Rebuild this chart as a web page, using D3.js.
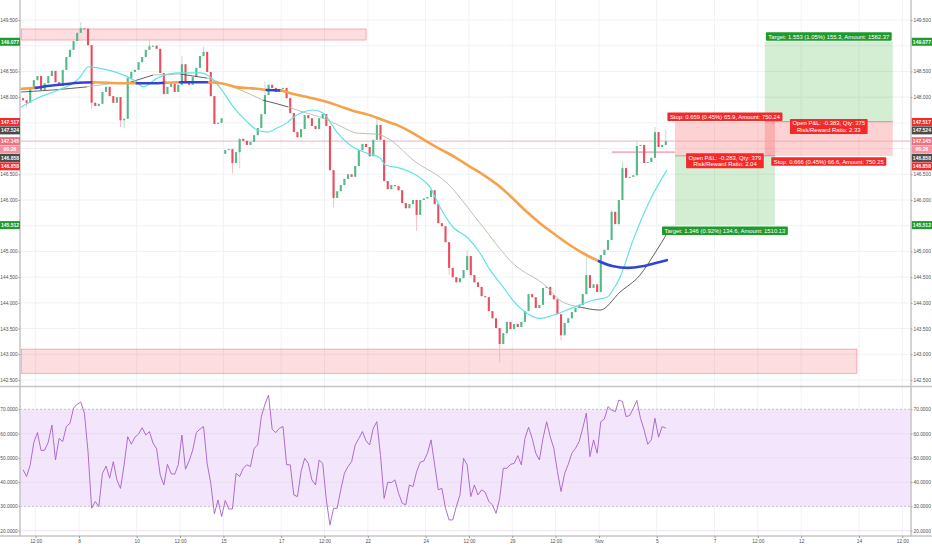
<!DOCTYPE html>
<html>
<head>
<meta charset="utf-8">
<script src="https://cdn.jsdelivr.net/npm/d3@7"></script>
<style>
  body { margin: 0; background: #fff; }
  svg { display: block; font-family: "Liberation Sans", Arial, sans-serif; }
</style>
</head>
<body>
<div id="chart"></div>
<script>
// ---- data ----
// 3h candles, closes (open = previous close)
const firstOpen = 147.98;
const closes = [
  147.94, 147.89, 148.18, 148.33, 148.41, 148.14, 148.27, 148.41, 148.51, 148.29,
  148.22, 148.53, 148.78, 148.92, 149.09, 149.25, 149.34, 149.33, 149.01, 147.89,
  147.83, 147.87, 148.10, 148.20, 148.02, 147.89, 148.00, 147.55, 147.58, 148.37,
  148.49, 148.53, 148.68, 148.78, 148.92, 148.99, 149.00, 148.94, 148.47, 148.06,
  148.20, 148.26, 148.10, 148.24, 148.64, 148.27, 148.24, 148.39, 148.57, 148.80,
  148.88, 148.49, 148.02, 147.48, 147.50, 147.59, 146.97, 146.99, 146.72, 146.93,
  147.19, 147.15, 147.07, 147.13, 147.26, 147.40, 147.67, 148.04, 148.24, 148.18,
  148.10, 148.16, 148.18, 147.98, 147.69, 147.32, 147.22, 147.38, 147.65, 147.59,
  147.44, 147.38, 147.59, 147.67, 147.44, 146.58, 146.04, 146.17, 146.29, 146.41,
  146.50, 146.45, 146.66, 146.97, 147.09, 147.03, 146.85, 147.17, 147.46, 147.17,
  146.37, 146.21, 146.29, 146.27, 146.19, 145.94, 145.84, 145.92, 146.00, 145.71,
  146.00, 146.03, 146.06, 146.19, 145.92, 145.55, 145.49, 145.18, 144.68, 144.50,
  144.40, 144.48, 144.64, 144.91, 144.54, 144.40, 144.31, 144.13, 144.11, 143.84,
  143.70, 143.51, 143.20, 143.41, 143.63, 143.49, 143.59, 143.53, 143.63, 143.84,
  144.17, 144.11, 143.90, 143.96, 144.29, 144.31, 144.15, 144.07, 143.78, 143.37,
  143.61, 143.70, 143.82, 143.90, 143.96, 144.17, 144.54, 144.29, 144.36, 144.21,
  144.93, 145.03, 145.22, 145.77, 145.53, 146.00, 146.62, 146.43, 146.45, 146.48,
  147.05, 147.07, 146.72, 146.74, 146.82, 147.32, 147.03, 147.07, 147.145
];
// weekly gap opens [candle index, open]
const gapOpens = [[56, 146.90]];
// notable wicks [candle index, high, low]
const wicks = [
  [1, null, 147.80], [16, 149.46, null], [19, null, 147.78], [27, null, 147.42],
  [28, null, 147.40], [35, 149.12, null], [44, 148.80, null], [50, 148.98, null],
  [58, null, 146.52], [60, null, 146.62], [67, 148.30, null], [86, null, 145.86],
  [98, 147.58, null], [109, null, 145.40], [118, null, 144.55], [123, 145.02, null],
  [132, null, 142.84], [149, null, 143.27], [156, 144.90, null], [163, 145.80, null],
  [166, 146.75, null], [170, 147.15, null], [175, 147.42, null], [178, 147.36, null]
];
// RSI per candle
const rsiValues = [
  45.1, 42.3, 47.1, 56.4, 60.4, 53.0, 53.2, 56.5, 63.5, 49.1,
  58.0, 56.7, 62.9, 64.2, 70.4, 72.1, 73.0, 68.4, 52.6, 29.2,
  32.0, 29.9, 43.6, 46.6, 41.6, 48.4, 40.9, 37.4, 47.1, 58.7,
  55.6, 58.5, 59.8, 62.4, 59.4, 60.8, 56.1, 53.7, 42.9, 38.8,
  47.3, 43.5, 43.2, 47.1, 59.4, 45.3, 48.7, 53.2, 60.4, 61.8,
  62.9, 47.6, 39.5, 26.9, 32.6, 25.8, 32.4, 28.9, 28.9, 43.6,
  42.3, 45.7, 47.1, 46.4, 53.9, 55.3, 67.0, 72.1, 75.9, 61.8,
  60.4, 62.2, 62.9, 47.1, 47.1, 34.7, 34.0, 44.3, 49.8, 47.7,
  40.9, 38.8, 49.1, 47.7, 32.6, 22.3, 29.2, 29.2, 36.8, 43.6,
  46.4, 48.4, 55.3, 58.0, 60.8, 57.0, 55.3, 62.2, 64.9, 50.9,
  33.3, 39.9, 39.8, 40.9, 35.4, 31.3, 30.6, 38.8, 38.1, 44.3,
  48.2, 48.7, 51.9, 57.4, 47.1, 36.8, 37.4, 29.2, 24.4, 24.4,
  29.9, 34.7, 49.8, 47.1, 34.0, 38.8, 34.7, 36.8, 35.8, 32.0,
  30.6, 27.1, 33.3, 45.7, 45.7, 47.3, 47.7, 50.9, 47.1, 58.0,
  62.6, 58.0, 51.9, 49.1, 58.0, 64.9, 58.7, 53.9, 44.3, 36.1,
  43.6, 47.3, 51.9, 53.9, 56.7, 62.2, 68.4, 50.5, 57.4, 51.9,
  64.9, 66.0, 71.1, 69.7, 69.0, 73.8, 73.2, 67.0, 67.4, 70.4,
  73.6, 66.3, 61.5, 55.6, 57.4, 66.3, 58.5, 62.9, 62.2
];
// moving averages: time in trading days since Oct 4, value
const maSlowT = [0, 0.5, 1, 1.5, 2, 2.5, 3, 3.5, 4, 4.5, 5, 5.5, 6, 6.5, 7, 7.5, 8, 8.5, 9, 9.5,
  10, 10.5, 11, 11.5, 12, 12.5, 13, 13.5, 14, 14.5, 15, 15.5, 16, 16.5, 17, 17.5, 18, 18.5, 19, 19.5,
  20, 20.5, 21, 21.5, 22, 22.35];
const maSlowV = [148.16, 148.18, 148.22, 148.25, 148.28, 148.29, 148.28, 148.27, 148.27, 148.27,
  148.28, 148.29, 148.29, 148.29, 148.26, 148.19, 148.17, 148.14, 148.13, 148.05,
  147.99, 147.92, 147.83, 147.73, 147.66, 147.56, 147.46, 147.32, 147.15, 146.99,
  146.84, 146.66, 146.49, 146.29, 146.04, 145.77, 145.53, 145.32, 145.12, 144.95,
  144.81, 144.71, 144.68, 144.71, 144.78, 144.83];
const maFastT = [0, 0.55, 1.11, 2.04, 2.32, 2.98, 3.77, 4.01, 4.22, 4.39, 4.71, 5.5, 6.19, 6.54, 6.89,
  7.34, 7.82, 8.17, 8.51, 8.86, 9.2, 9.38, 9.76, 10.1, 10.45, 10.69, 10.93, 11.38, 11.97, 12.42,
  12.6, 13.11, 13.56, 13.81, 14.15, 14.5, 14.95, 15.43, 15.88, 16.23, 16.68, 17.02, 17.51, 17.96,
  18.41, 18.89, 19.34, 19.79, 20.28, 20.48, 20.73, 21.18, 21.77, 22.35];
const maFastV = [147.81, 147.98, 148.10, 148.39, 148.59, 148.53, 148.37, 148.29, 148.20, 148.24,
  148.37, 148.47, 148.47, 148.39, 148.18, 147.81, 147.52, 147.36, 147.32, 147.40,
  147.50, 147.59, 147.71, 147.75, 147.69, 147.52, 147.32, 147.07, 146.91, 146.82,
  146.68, 146.62, 146.52, 146.43, 146.25, 145.86, 145.47, 145.28, 144.97, 144.64,
  144.31, 144.05, 143.80, 143.70, 143.76, 143.86, 143.96, 144.05, 144.11, 144.25,
  144.50, 145.22, 146.00, 146.58];
const maMidT = [0, 1.11, 2.28, 3.08, 3.77, 4.57, 5.5, 6.44, 7.58, 8.37, 8.86, 9.24, 9.65, 10.45, 11.04,
  11.63, 12.32, 12.77, 13.56, 14.74, 15.88, 17.02, 18.2, 18.65, 19.34, 20.04, 20.73, 21.42, 21.94, 22.39];
const maMidV = [148.10, 148.14, 148.20, 148.26, 148.29, 148.43, 148.45, 148.37, 148.14, 147.94,
  147.87, 147.81, 147.73, 147.59, 147.44, 147.30, 147.28, 147.17, 146.78, 146.33,
  145.55, 144.77, 144.31, 144.05, 143.92, 143.86, 144.21, 144.54, 144.97, 145.38];

// axes
const priceTicks = [142.5, 143, 143.5, 144, 144.5, 145, 145.5, 146, 146.5, 147, 147.5, 148, 148.5, 149, 149.5];
const rsiTicks = [20, 30, 40, 50, 60, 70];
const timeTicks = [0.5, 2, 4, 5.5, 7, 9, 10.5, 12, 14, 15.5, 17, 18.5, 20, 22, 24, 25.5, 27, 29, 30.5];
const timeLabels = ["12:00", "8", "10", "12:00", "15", "17", "12:00", "22", "24", "12:00", "29",
  "12:00", "Nov", "5", "7", "12:00", "12", "14", "12:00"];

// drawings
const zones = [
  { t0: 0, t1: 11.94, top: 149.325, bottom: 149.11 },
  { t0: 0, t1: 28.93, top: 143.10, bottom: 142.63 }
];
const lastPrice = 147.145;
const pinkLine = { t0: 20.45, t1: 22.63, price: 146.93 };
const trades = [
  { t0: 22.63, t1: 26.09, entry: 146.858, stop: 147.517, target: 145.512,
    stopText: "Stop: 0.659 (0.45%) 65.9, Amount: 750.24",
    targetText: "Target: 1.346 (0.92%) 134.6, Amount: 1510.13",
    midText: ["Open P&L: -0.283, Qty: 379", "Risk/Reward Ratio: 2.04"] },
  { t0: 25.74, t1: 30.17, entry: 147.524, stop: 146.858, target: 149.077,
    stopText: "Stop: 0.666 (0.45%) 66.6, Amount: 750.25",
    targetText: "Target: 1.553 (1.05%) 155.3, Amount: 1582.37",
    midText: ["Open P&L: -0.383, Qty: 375", "Risk/Reward Ratio: 2.33"] }
];
// price scale badges
const badgeValues = [149.077, 147.517, 147.524, 147.145, 147.145, 146.858, 146.858, 145.512];
const badgeTexts = ["149.077", "147.517", "147.524", "147.145", "06:26", "146.858", "146.858", "145.512"];
const badgeColors = ["#1f9a2e", "#f42a2a", "#4a4a4a", "#ee6e82", "#f291a0", "#4a4a4a", "#f42a2a", "#1f9a2e"];

// ---- layout ----
const W = 932, H = 550;
const plotL = 20, plotR = 911;
const mainBot = 386, rsiTop = 387, rsiBot = 536;
const fs = 4.8;    // axis text
const lfs = 5.9;   // trade label text

const x = d3.scaleLinear().domain([0, 30.5]).range([21.2, 902.3]);
const y = d3.scaleLinear().domain([142.5, 149.5]).range([380, 20]);
const yR = d3.scaleLinear().domain([20, 70]).range([530.6, 409.3]);

const svg = d3.select("#chart").append("svg")
  .attr("width", W).attr("height", H);

const defs = svg.append("defs");
defs.append("clipPath").attr("id", "clipMain").append("rect")
  .attr("x", plotL).attr("y", 0).attr("width", plotR - plotL).attr("height", mainBot);
defs.append("clipPath").attr("id", "clipRsi").append("rect")
  .attr("x", plotL).attr("y", rsiTop).attr("width", plotR - plotL).attr("height", rsiBot - rsiTop);

// candles
const candles = closes.map((c, i) => {
  const o = i === 0 ? firstOpen : closes[i - 1];
  return { i, t: (i + 0.5) / 8, o, c, h: Math.max(o, c), l: Math.min(o, c) };
});
gapOpens.forEach(([i, o]) => {
  const d = candles[i];
  d.o = o; d.h = Math.max(o, d.c); d.l = Math.min(o, d.c);
});
wicks.forEach(([i, h, l]) => {
  const d = candles[i];
  if (h != null) d.h = Math.max(d.h, h);
  if (l != null) d.l = Math.min(d.l, l);
});

// price badges positions (stacked when they collide)
let prevY = -100;
const badgeY = badgeValues.map(v => {
  const yy = Math.max(y(v), prevY + 8.4);
  prevY = yy;
  return yy;
});

// grid
const grid = svg.append("g");
grid.selectAll(".hg").data(priceTicks).enter().append("line")
  .attr("x1", plotL).attr("x2", plotR)
  .attr("y1", d => y(d)).attr("y2", d => y(d))
  .attr("stroke", "#eff1f4").attr("stroke-width", 1);
grid.selectAll(".vg").data(timeTicks).enter().append("line")
  .attr("x1", d => x(d)).attr("x2", d => x(d))
  .attr("y1", 0).attr("y2", rsiBot)
  .attr("stroke", "#f1f2f5").attr("stroke-width", 1);

// ---- main pane ----
const main = svg.append("g").attr("clip-path", "url(#clipMain)");

main.selectAll(".zone").data(zones).enter().append("rect")
  .attr("x", d => x(d.t0)).attr("width", d => x(d.t1) - x(d.t0))
  .attr("y", d => y(d.top)).attr("height", d => y(d.bottom) - y(d.top))
  .attr("fill", "rgba(242,54,69,0.17)")
  .attr("stroke", "rgba(242,54,69,0.45)").attr("stroke-width", 0.8);

// trade boxes
trades.forEach(tr => {
  const xa = x(tr.t0), xb = x(tr.t1);
  main.append("rect").attr("x", xa).attr("width", xb - xa)
    .attr("y", y(Math.max(tr.entry, tr.stop))).attr("height", Math.abs(y(tr.stop) - y(tr.entry)))
    .attr("fill", "rgba(245,50,50,0.22)");
  main.append("rect").attr("x", xa).attr("width", xb - xa)
    .attr("y", y(Math.max(tr.entry, tr.target))).attr("height", Math.abs(y(tr.target) - y(tr.entry)))
    .attr("fill", "rgba(40,170,40,0.2)");
  main.append("line").attr("x1", xa).attr("x2", xb)
    .attr("y1", y(tr.entry)).attr("y2", y(tr.entry))
    .attr("stroke", "#9a9a9a").attr("stroke-width", 0.8);
});

// last price line
main.append("line").attr("x1", plotL).attr("x2", plotR)
  .attr("y1", y(lastPrice)).attr("y2", y(lastPrice))
  .attr("stroke", "#f2a6b4").attr("stroke-width", 0.9);

main.append("line")
  .attr("x1", x(pinkLine.t0)).attr("x2", x(pinkLine.t1))
  .attr("y1", y(pinkLine.price)).attr("y2", y(pinkLine.price))
  .attr("stroke", "rgba(240,120,150,0.6)").attr("stroke-width", 1.8);

const bw = (x(1 / 8) - x(0)) * 0.58;
const upC = "#53b987", dnC = "#eb4d5c";
const cg = main.append("g");
cg.selectAll(".wick").data(candles).enter().append("line")
  .attr("x1", d => x(d.t)).attr("x2", d => x(d.t))
  .attr("y1", d => y(d.h)).attr("y2", d => y(d.l))
  .attr("stroke", d => d.c >= d.o ? "#a9d9c1" : "#f3aeb5").attr("stroke-width", 0.8);
cg.selectAll(".body").data(candles).enter().append("rect")
  .attr("x", d => x(d.t) - bw / 2).attr("width", bw)
  .attr("y", d => y(Math.max(d.o, d.c)))
  .attr("height", d => Math.max(1, Math.abs(y(d.o) - y(d.c))))
  .attr("fill", d => d.c >= d.o ? upC : dnC);

// moving averages, coloured by where price sits against them
function closeSide(ts, vs, upCol, dnCol) {
  const runs = [];
  for (let k = 0; k < ts.length - 1; k++) {
    const t0 = ts[k], t1 = ts[k + 1];
    let span = candles.filter(d => d.t >= t0 && d.t < t1);
    if (!span.length) span = [candles[Math.min(candles.length - 1, Math.max(0, Math.round((t0 + t1) / 2 * 8 - 0.5)))]];
    const col = d3.mean(span, d => d.c) >= (vs[k] + vs[k + 1]) / 2 ? upCol : dnCol;
    const last = runs[runs.length - 1];
    if (last && last.color === col) last.pts.push([t1, vs[k + 1]]);
    else runs.push({ color: col, pts: [[t0, vs[k]], [t1, vs[k + 1]]] });
  }
  return runs;
}
const line = d3.line().x(d => x(d[0])).y(d => y(d[1])).curve(d3.curveMonotoneX);

main.selectAll(".mid").data(closeSide(maMidT, maMidV, "#505050", "#b6baa8")).enter().append("path")
  .attr("d", d => line(d.pts)).attr("fill", "none")
  .attr("stroke", d => d.color).attr("stroke-width", 0.9);

main.append("path")
  .attr("d", line(maFastT.map((t, k) => [t, maFastV[k]])))
  .attr("fill", "none").attr("stroke", "#62e2e2").attr("stroke-width", 1.2);

main.selectAll(".slow").data(closeSide(maSlowT, maSlowV, "#3145d4", "#f6a24a")).enter().append("path")
  .attr("d", d => line(d.pts)).attr("fill", "none")
  .attr("stroke", d => d.color).attr("stroke-width", 2.6).attr("stroke-linecap", "round");

// trade labels
function label(g, cx, yTop, lines, bg) {
  const lg = g.append("g");
  const r = lg.append("rect").attr("fill", bg).attr("rx", 0.8);
  let wMax = 0;
  lines.forEach((s, k) => {
    const t = lg.append("text").attr("x", cx).attr("y", yTop + 6.3 + k * 6.6)
      .attr("text-anchor", "middle").attr("fill", "#fff").style("font-size", lfs + "px").text(s);
    wMax = Math.max(wMax, t.node().getComputedTextLength());
  });
  r.attr("x", cx - wMax / 2 - 2.5).attr("width", wMax + 5)
    .attr("y", yTop).attr("height", 1.8 + lines.length * 6.6);
}
const lab = svg.append("g");
trades.forEach(tr => {
  const cx = (x(tr.t0) + x(tr.t1)) / 2;
  const long = tr.target > tr.entry;
  const topP = Math.max(tr.stop, tr.target), botP = Math.min(tr.stop, tr.target);
  const topText = long ? tr.targetText : tr.stopText;
  const botText = long ? tr.stopText : tr.targetText;
  label(lab, cx, y(topP) - 9.4, [topText], long ? "#1f9a2e" : "#f42a2a");
  label(lab, cx, y(botP) + 1.5, [botText], long ? "#f42a2a" : "#1f9a2e");
  label(lab, cx, y(tr.entry) - 2.5, tr.midText, "#f42a2a");
});

// ---- RSI pane ----
const rsiG = svg.append("g").attr("clip-path", "url(#clipRsi)");
rsiG.append("rect").attr("x", plotL).attr("width", plotR - plotL)
  .attr("y", yR(70)).attr("height", yR(30) - yR(70)).attr("fill", "#f3e6fc");
rsiG.selectAll(".rg").data([40, 50, 60, 20]).enter().append("line")
  .attr("x1", plotL).attr("x2", plotR).attr("y1", d => yR(d)).attr("y2", d => yR(d))
  .attr("stroke", "#e8dcef").attr("stroke-width", 0.8);
rsiG.selectAll(".rd").data([70, 30]).enter().append("line")
  .attr("x1", plotL).attr("x2", plotR).attr("y1", d => yR(d)).attr("y2", d => yR(d))
  .attr("stroke", "#b9b3bd").attr("stroke-width", 0.8).attr("stroke-dasharray", "2,2");
rsiG.append("path")
  .attr("d", d3.line().x((v, i) => x(candles[i].t)).y(v => yR(v))(rsiValues))
  .attr("fill", "none").attr("stroke", "#a75ec9").attr("stroke-width", 0.9);

// ---- axes ----
function styleAxis(g) {
  g.select(".domain").attr("stroke", "#c4c4c4").attr("stroke-width", 1.5);
  g.selectAll(".tick line").attr("stroke", "#9a9a9a");
  g.selectAll(".tick text").attr("fill", "#505050").style("font-size", fs + "px")
    .style("font-family", "'Liberation Sans', Arial, sans-serif");
}
// price ticks hidden under a badge are not drawn
const freeTicks = priceTicks.filter(p => badgeY.every(b => Math.abs(b - y(p)) > 5.5));
const pf = d3.format(".3f"), rf = d3.format(".4f");
svg.append("g").attr("transform", `translate(${plotL},0)`)
  .call(d3.axisLeft(y).tickValues(freeTicks).tickFormat(pf).tickSize(1.5).tickPadding(0.8))
  .call(styleAxis).select(".domain").attr("d", `M0,0V${mainBot}`);
svg.append("g").attr("transform", `translate(${plotR},0)`)
  .call(d3.axisRight(y).tickValues(freeTicks).tickFormat(pf).tickSize(1.5).tickPadding(1))
  .call(styleAxis).select(".domain").attr("d", `M0,0V${mainBot}`);
svg.append("g").attr("transform", `translate(${plotL},0)`)
  .call(d3.axisLeft(yR).tickValues(rsiTicks).tickFormat(rf).tickSize(1.5).tickPadding(0.8))
  .call(styleAxis).select(".domain").attr("d", `M0,${rsiTop}V${rsiBot}`);
svg.append("g").attr("transform", `translate(${plotR},0)`)
  .call(d3.axisRight(yR).tickValues(rsiTicks).tickFormat(rf).tickSize(1.5).tickPadding(1))
  .call(styleAxis).select(".domain").attr("d", `M0,${rsiTop}V${rsiBot}`);
svg.append("g").attr("transform", `translate(0,${rsiBot})`)
  .call(d3.axisBottom(x).tickValues(timeTicks).tickFormat((d, k) => timeLabels[k]).tickSize(2).tickPadding(2))
  .call(styleAxis).select(".domain").attr("d", `M0,0H${W}`);

// pane separator
svg.append("line").attr("x1", 0).attr("x2", W).attr("y1", mainBot + 0.5).attr("y2", mainBot + 0.5)
  .attr("stroke", "#c4c4c4").attr("stroke-width", 1.5);

// price badges on both scales
[[0, plotL], [plotR + 0.8, W]].forEach(([xa, xb]) => {
  const bg = svg.append("g");
  badgeValues.forEach((v, k) => {
    bg.append("rect").attr("x", xa).attr("width", xb - xa)
      .attr("y", badgeY[k] - 4).attr("height", 8).attr("fill", badgeColors[k]);
    bg.append("text").attr("x", (xa + xb) / 2).attr("y", badgeY[k] + 1.9)
      .attr("text-anchor", "middle").attr("fill", "#fff")
      .style("font-size", "5px").style("font-weight", "bold").text(badgeTexts[k]);
  });
});
</script>
</body>
</html>
